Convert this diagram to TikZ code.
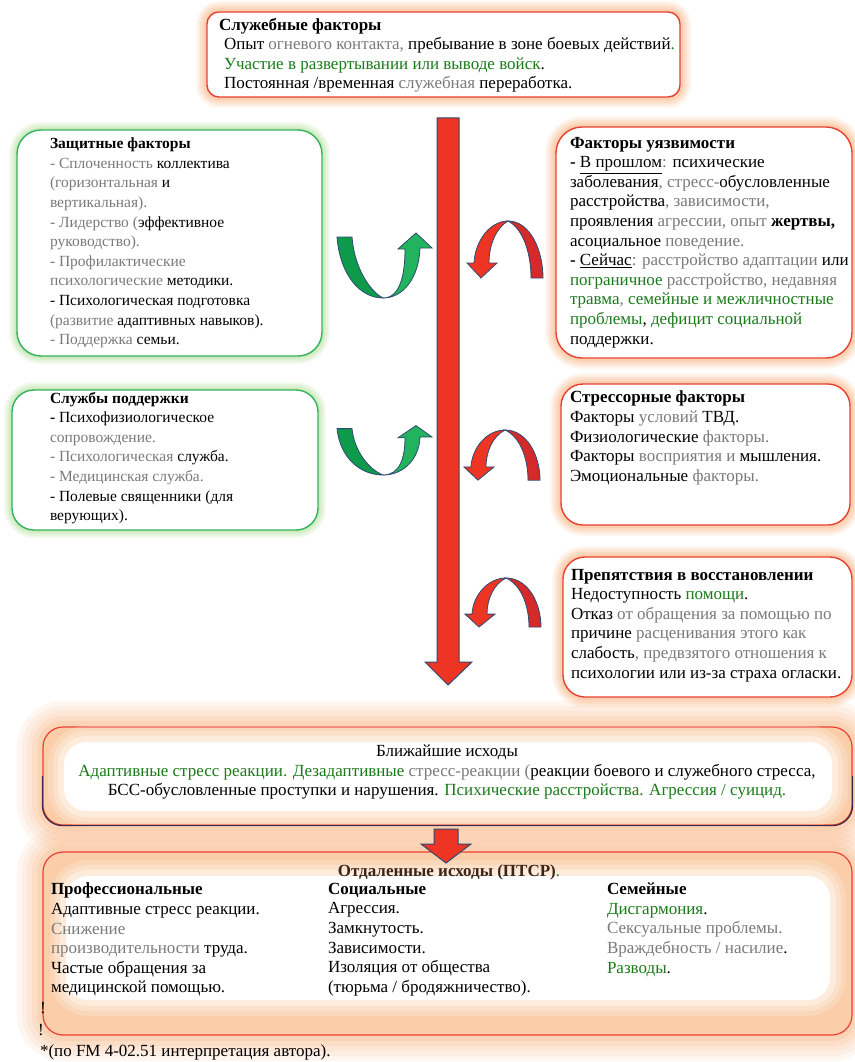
\documentclass[tikz,border=0pt]{standalone}
\usepackage{fontspec}
\setmainfont{Liberation Serif}
\usetikzlibrary{calc}
\definecolor{boxRed}{HTML}{E8402E}
\definecolor{glowOrange}{HTML}{F7A86E}
\definecolor{boxGreen}{HTML}{34B35C}
\definecolor{glowGreen}{HTML}{A6D98A}
\definecolor{arrRed}{HTML}{EE3524}
\definecolor{arrDark}{HTML}{D42A2A}
\definecolor{edgeBlue}{HTML}{2F4A72}
\definecolor{grnDark}{HTML}{0E9A4B}
\definecolor{grnLight}{HTML}{22B35E}
\definecolor{txtGray}{HTML}{7A7A7A}
\definecolor{txtGreen}{HTML}{1A7A1A}
\definecolor{navyEdge}{HTML}{3A2A4C}
\definecolor{peach}{HTML}{FBCDA8}
\definecolor{titleBrown}{HTML}{3B2418}
\newcommand{\gry}[1]{\textcolor{txtGray}{#1}}
\newcommand{\grn}[1]{\textcolor{txtGreen}{#1}}
\tikzset{
	redframe/.style={draw=boxRed, line width=1.4pt, fill=white,
			preaction={draw=glowOrange, line width=22pt, opacity=0.1},
			preaction={draw=glowOrange, line width=18pt, opacity=0.12},
			preaction={draw=glowOrange, line width=14pt, opacity=0.14},
			preaction={draw=glowOrange, line width=10pt, opacity=0.16},
			preaction={draw=glowOrange, line width=6pt, opacity=0.2}},
	greenframe/.style={draw=boxGreen, line width=1.4pt, fill=white,
			preaction={draw=glowGreen, line width=16pt, opacity=0.14},
			preaction={draw=glowGreen, line width=12pt, opacity=0.16},
			preaction={draw=glowGreen, line width=8pt, opacity=0.2},
			preaction={draw=glowGreen, line width=4pt, opacity=0.25}},
	peachframe/.style={draw=boxRed, line width=1.2pt, fill=peach, rounded corners=20pt,
			preaction={draw=glowOrange, line width=52pt, opacity=0.1},
			preaction={draw=glowOrange, line width=42pt, opacity=0.1},
			preaction={draw=glowOrange, line width=32pt, opacity=0.12},
			preaction={draw=glowOrange, line width=22pt, opacity=0.14},
			preaction={draw=glowOrange, line width=12pt, opacity=0.16}},
	softwhite/.style={fill=white, rounded corners=22pt,
			preaction={draw=white, line width=32pt, opacity=0.2},
			preaction={draw=white, line width=22pt, opacity=0.25},
			preaction={draw=white, line width=12pt, opacity=0.35}},
	greenturn/.pic={
			\filldraw[fill=grnDark, draw=edgeBlue, line width=0.8pt] (-46,-61) .. controls (-43,-23) and (-23,0) .. (0,0)
				.. controls (-15,-8) and (-29,-33) .. (-31,-61) -- cycle;
			\filldraw[fill=grnLight, draw=edgeBlue, line width=0.8pt] (0,0) .. controls (17,0) and (22,-23) .. (22,-49)
				-- (15,-49) -- (33,-65) -- (49,-50) -- (37,-50) .. controls (36,-20) and (20,0) .. (0,0) -- cycle;},
	redturn/.pic={
			\filldraw[fill=arrDark, draw=edgeBlue, line width=0.8pt] (0,0) .. controls (22,0) and (35,29) .. (35,57)
				-- (23,57) .. controls (23,30) and (14,7) .. (0,0) -- cycle;
			\filldraw[fill=arrRed, draw=edgeBlue, line width=0.8pt] (0,0) .. controls (-18,0) and (-33,20) .. (-34,42)
				-- (-41,42) -- (-27,57) -- (-11,42) -- (-19,42) .. controls (-19,24) and (-12,7) .. (0,0) -- cycle;}
}

\begin{document}
\begin{tikzpicture}[x=1pt, y=-1pt,
		txt/.style={inner sep=0pt, outer sep=0pt, anchor=north west, align=left,
			font=\fontsize{15.5}{19.6}\selectfont},
		txtbig/.style={txt, font=\fontsize{17}{19.6}\selectfont},
		blockarrow/.style={fill=arrRed, draw=edgeBlue, line width=1pt}]
	\useasboundingbox (0,0) rectangle (854,1062);
	
	% bottom outcome boxes
	\node[peachframe, minimum width=809pt, minimum height=98pt] (near) at (447.5,776) {};
	\fill[softwhite] (64,742) rectangle (832,811);
	\draw[navyEdge, line width=1.2pt, rounded corners=20pt] (near.west) |- (near.south) -| (near.east);
	\node[peachframe, minimum width=809pt, minimum height=183pt] (far) at (447.5,943.5) {};
	\fill[softwhite] (66,876) rectangle (830,1000);
	
	% frames
	\node[redframe, rounded corners=12pt, minimum width=473pt, minimum height=85pt] (serv) at (443.5,54.5) {};
	\node[greenframe, rounded corners=24pt, minimum width=305pt, minimum height=226pt] (prot) at (169.5,243) {};
	\node[redframe, rounded corners=26pt, minimum width=296pt, minimum height=231pt] (vuln) at (704,242.5) {};
	\node[greenframe, rounded corners=22pt, minimum width=306pt, minimum height=140pt] (supp) at (165,460) {};
	\node[redframe, rounded corners=22pt, minimum width=289pt, minimum height=141pt] (strs) at (705.5,454.5) {};
	\node[redframe, rounded corners=22pt, minimum width=289pt, minimum height=140pt] (barr) at (707.5,627) {};
	
	% texts
	\node[txtbig] (servt) at (219,18) {\textbf{Служебные факторы}\\
		\hspace*{5pt}Опыт \gry{огневого контакта,} пребывание в зоне боевых действий\grn{.}\\
		\hspace*{5pt}\grn{Участие в развертывании или выводе войск}.\\
		\hspace*{5pt}Постоянная /временная \gry{служебная} переработка.};
	\node[txt] (prott) at (50,138) {\textbf{Защитные факторы}\\
		\gry{- Сплоченность} коллектива\\
		\gry{(горизонтальная} и\\
		\gry{вертикальная).}\\
		\gry{- Лидерство (}эффективное\\
		\gry{руководство).}\\
		\gry{- Профилактические}\\
		\gry{психологические} методики.\\
		- Психологическая подготовка\\
		\gry{(развитие} адаптивных навыков).\\
		\gry{- Поддержка} семьи.};
	\node[txtbig] (vulnt) at (570,137) {\textbf{Факторы уязвимости}\\
		\textbf{-} \underline{В прошлом}\gry{:} психические\\
		заболевания\gry{, стресс-}обусловленные\\
		расстройства\gry{, зависимости,}\\
		проявления \gry{агрессии, опыт} \textbf{жертвы,}\\
		асоциальное \gry{поведение.}\\
		\textbf{-} \underline{Сейчас}\gry{: расстройство адаптации} или\\
		\grn{пограничное} \gry{расстройство, недавняя}\\
		\grn{травма}\gry{,} \grn{семейные и межличностные}\\
		\grn{проблемы}, \grn{дефицит социальной}\\
		поддержки.};
	\node[txt] (suppt) at (50,392) {\textbf{Службы поддержки}\\
		\textbf{-} Психофизиологическое\\
		\gry{сопровождение.}\\
		\gry{- Психологическая} служба.\\
		\gry{- Медицинская служба.}\\
		- Полевые священники (для\\
		верующих).};
	\node[txtbig] (strst) at (570,391) {\textbf{Стрессорные факторы}\\
		Факторы \gry{условий} ТВД.\\
		Физиологические \gry{факторы.}\\
		Факторы \gry{восприятия и} мышления.\\
		Эмоциональные \gry{факторы.}};
	\node[txtbig] (barrt) at (571,569) {\textbf{Препятствия в восстановлении}\\
		Недоступность \grn{помощи}.\\
		Отказ \gry{от обращения за помощью по}\\
		причине \gry{расценивания этого как}\\
		слабость\gry{, предвзятого отношения к}\\
		психологии или из-за страха огласки.};
	
	\node[txtbig, anchor=north, align=center] (neart) at (447,745) {Ближайшие исходы\\
		\grn{Адаптивные стресс реакции. Дезадаптивные} \gry{стресс-реакции (}реакции боевого и служебного стресса,\\
		БСС-обусловленные проступки и нарушения. \grn{Психические расстройства. Агрессия / суицид.}};
	\node[txtbig, anchor=north] (fart) at (449,865) {\textcolor{titleBrown}{\textbf{Отдаленные исходы (ПТСР)}}\grn{.}};
	\node[txtbig] (profc) at (51,883) {\textbf{Профессиональные}\\
		Адаптивные стресс реакции.\\
		\gry{Снижение}\\
		\gry{производительности} труда.\\
		Частые обращения за\\
		медицинской помощью.};
	\node[txtbig] (socc) at (328,883) {\textbf{Социальные}\\
		Агрессия.\\
		Замкнутость.\\
		Зависимости.\\
		Изоляция от общества\\
		(тюрьма / бродяжничество).};
	\node[txtbig] (famc) at (607,883) {\textbf{Семейные}\\
		\grn{Дисгармония}.\\
		\gry{Сексуальные проблемы.}\\
		\gry{Враждебность / насилие}.\\
		\grn{Разводы}.};
	\node[txtbig, anchor=center] (bang1) at (43,1008) {!};
	\node[txtbig, anchor=center] (bang2) at (41,1030) {!};
	\node[txtbig, anchor=west] (note) at (40,1052) {*(по FM 4-02.51 интерпретация автора).};
	
	% main flow arrow
	\coordinate (flowtop) at (448,118);
	\coordinate (flowtip) at (448,685);
	\filldraw[blockarrow] ($(flowtop)+(-11,0)$) -- ($(flowtop)+(11,0)$) -- ($(flowtip)+(11,-23)$) -- ($(flowtip)+(24,-23)$)
		-- (flowtip) -- ($(flowtip)+(-23,-23)$) -- ($(flowtip)+(-11,-23)$) -- cycle;
	
	% turn arrows
	\pic at (383,298) {greenturn};
	\pic[yscale=0.76] at (383,475) {greenturn};
	\pic at (508,221) {redturn};
	\pic[yscale=0.88] at (505,430) {redturn};
	\pic[yscale=0.86] at (506,578) {redturn};
	
	% near -> far
	\coordinate (dtop) at (446,829);
	\coordinate (dtip) at (446,863);
	\filldraw[blockarrow] ($(dtop)+(-12,0)$) -- ($(dtop)+(12,0)$) -- ($(dtip)+(12,-19)$) -- ($(dtip)+(25,-19)$)
		-- (dtip) -- ($(dtip)+(-25,-19)$) -- ($(dtip)+(-12,-19)$) -- cycle;
\end{tikzpicture}
\end{document}
